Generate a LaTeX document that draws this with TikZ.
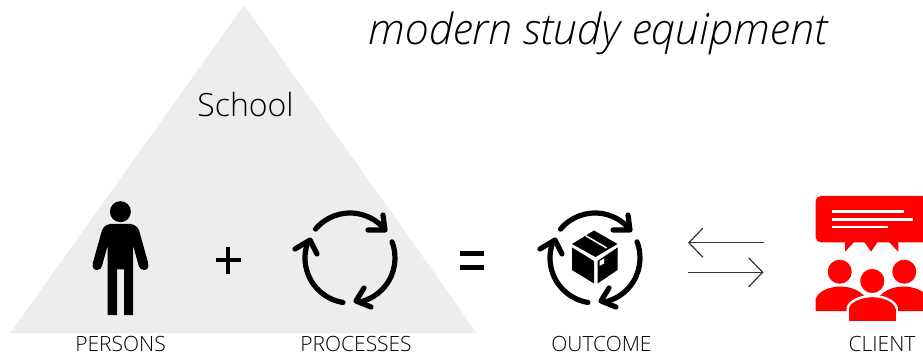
\documentclass[tikz,border=0pt]{standalone}
\usepackage{fontspec}
\setmainfont{Open Sans Light}[ItalicFont={Open Sans Light Italic}]
\usetikzlibrary{arrows.meta}
\definecolor{tri}{HTML}{EDEDED}
\definecolor{ink}{HTML}{000000}
\definecolor{cred}{HTML}{FF0000}
\tikzset{
  caption/.style={anchor=base,font=\fontsize{21}{24}\selectfont,text=ink,inner sep=0pt},
  cyc/.style={line width=5.2pt,line cap=round,line join=round},
  swap/.style={line width=1.2pt,draw=ink!80,-{Straight Barb[length=14pt,width=29pt,line width=1.2pt]}},
}
\newcommand{\cyclemark}[2]{%
  \begin{scope}[shift={(#1,#2)}]
    \draw[cyc] (-140:45pt) arc[start angle=-140,end angle=-40,radius=45pt];
    \draw[cyc] (18,-28) -- (35,-28) -- (33,-43);
    \draw[cyc] (-21:45pt) arc[start angle=-21,end angle=78,radius=45pt];
    \draw[cyc] (14,30) -- (6,43) -- (21,49);
    \draw[cyc] (99:45pt) arc[start angle=99,end angle=198,radius=45pt];
    \draw[cyc] (-55,-9) -- (-40,-18) -- (-33,-4);
  \end{scope}}
\begin{document}
\begin{tikzpicture}[x=1pt,y=1pt,yscale=-1]
\useasboundingbox (0,0) rectangle (923,355);
\fill[tri] (244,5) -- (477,333) -- (10,333) -- cycle;
% person
\fill (120.4,211.7) circle[radius=10.5pt];
\fill (120.4,224) -- (110,224) .. controls (105,225) and (102.5,228) .. (101.5,232)
  -- (92.8,263) .. controls (92,268) and (94,270) .. (97,270) .. controls (100,270) and (101.5,268) .. (102,266)
  -- (107.5,246) -- (107.5,315) -- (117,315) -- (117,269.5)
  -- (124,269.5) -- (124,315) -- (133.2,315) -- (133.2,246) -- (138.8,266)
  .. controls (139.5,268) and (141,270) .. (144,270) .. controls (147,270) and (149,268) .. (148.2,263)
  -- (139.5,232) .. controls (138.5,228) and (136,225) .. (131,224) -- cycle;
\fill (216,258.2) rectangle (240.5,262);
\fill (226.4,247) rectangle (230.2,273.5);
% equals
\fill (460,251.5) rectangle (484,255.8);
\fill (460,265.5) rectangle (484,269.8);
\cyclemark{350}{258}
\cyclemark{595}{258}
% box
\fill (594,230.5) -- (617.5,244) -- (595.5,257) -- (572,244) -- cycle;
\draw[white,line width=1.5pt] (585.7,235.7) -- (606.7,248);
\fill (572,247.5) -- (594,261) -- (594,283.5) -- (572,270) -- cycle;
\fill (617.5,247.5) -- (597.5,261) -- (597.5,283.5) -- (617.5,270) -- cycle;
\fill[white] (599.5,261) -- (604,258.5) -- (604,263.5) -- (599.5,266) -- cycle;
% client
\fill[cred,rounded corners=5pt] (815.7,196) -- (935,196) -- (935,242.3) -- (815.7,242.3) -- cycle;
\fill[cred] (845,240) -- (845,251.7) -- (856,240) -- cycle;
\fill[cred] (863,240) -- (871,251.7) -- (879,240) -- cycle;
\fill[cred] (887,240) -- (898.3,251.7) -- (898.3,240) -- cycle;
\fill[white] (831.7,210.5) rectangle (904,213);
\fill[white] (831.7,218.5) rectangle (913.3,221);
\fill[white] (831.7,226) rectangle (888.3,228.5);
\fill[cred] (839.7,271.7) circle[radius=12pt];
\fill[cred] (904.3,271.7) circle[radius=12pt];
\fill[cred] (815.7,311) -- (815.7,299) .. controls (818,291) and (830,286.5) .. (840,286.5) .. controls (850,286.5) and (860,290) .. (866,298) -- (846,311) -- cycle;
\fill[cred] (930,311) -- (930,299) .. controls (925,291) and (914,286.5) .. (904,286.5) .. controls (894,286.5) and (884,290) .. (878,298) -- (898,311) -- cycle;
\filldraw[cred,draw=white,line width=2.4pt] (847.7,320) -- (847.7,308) .. controls (849,301) and (861,296) .. (872.3,296) .. controls (884,296) and (895,301) .. (896.7,308) -- (896.7,320) -- cycle;
\fill[cred] (849,309) rectangle (895.5,320.5);
\filldraw[cred,draw=white,line width=1.6pt] (872.3,281) circle[radius=13pt];
% arrows
\coordinate (al) at (688,242.7);
\coordinate (ar) at (763.5,242.7);
\coordinate (bl) at (688,272.3);
\coordinate (br) at (763.5,272.3);
\draw[swap] (ar) -- (al);
\draw[swap] (bl) -- (br);
% text
\node[caption] (persons) at (120.5,351.5) {PERSONS};
\node[caption] (processes) at (356,351.5) {PROCESSES};
\node[caption] (outcome) at (601.5,351.5) {OUTCOME};
\node[caption] (client) at (882,351.5) {CLIENT};
\node[anchor=base,inner sep=0pt,font=\fontsize{32}{36}\selectfont] (school) at (245.5,117) {School};
\node[anchor=base,inner sep=0pt,font=\fontsize{43}{48}\selectfont\itshape,text=ink] (title) at (598,45) {modern study equipment};
\end{tikzpicture}
\end{document}
